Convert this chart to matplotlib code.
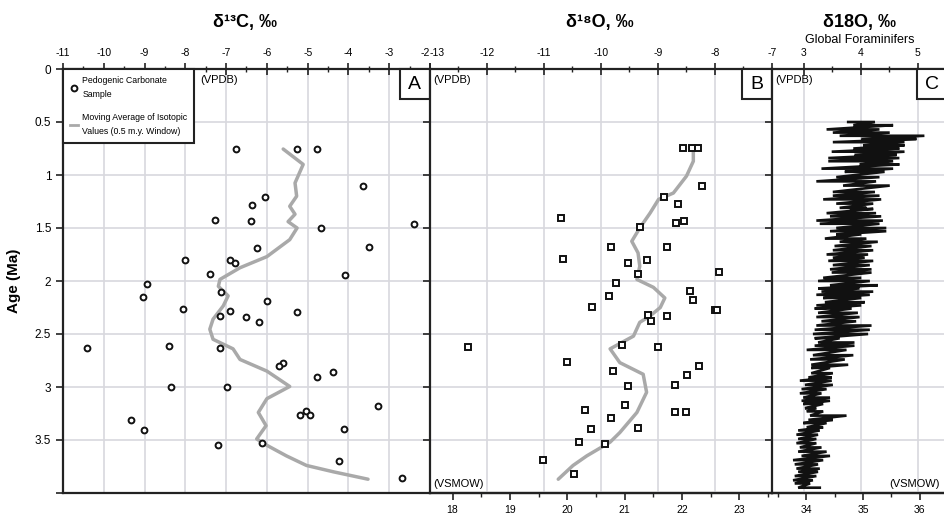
import matplotlib
matplotlib.use('Agg')
import matplotlib.pyplot as plt
from matplotlib.lines import Line2D
from matplotlib.patches import Rectangle
import numpy as np

plt.rcParams['font.family'] = ['Liberation Sans', 'DejaVu Sans']

# --- panel A: d13C of pedogenic carbonate (VPDB) ---
c13_val = [-6.76, -5.27, -4.76, -3.65, -6.05, -6.37, -7.27, -6.39, -4.68, -2.40,
           -6.25, -3.49, -8.00, -6.91, -6.78, -7.40, -4.08, -8.93, -9.03, -7.12,
           -6.00, -8.06, -6.91, -5.27, -7.15, -6.52, -6.20, -10.40, -8.41, -7.15,
           -5.60, -5.70, -4.37, -4.78, -8.35, -6.99, -3.27, -5.19, -5.04, -4.95,
           -9.33, -9.01, -4.11, -7.19, -6.13, -4.24, -2.69]
c13_age = [0.75, 0.75, 0.75, 1.10, 1.21, 1.28, 1.42, 1.43, 1.50, 1.46,
           1.69, 1.68, 1.80, 1.80, 1.83, 1.93, 1.94, 2.03, 2.15, 2.10,
           2.19, 2.26, 2.28, 2.29, 2.33, 2.34, 2.39, 2.63, 2.61, 2.63,
           2.77, 2.80, 2.86, 2.91, 3.00, 3.00, 3.18, 3.26, 3.23, 3.26,
           3.31, 3.41, 3.40, 3.55, 3.53, 3.70, 3.86]
c13_avg_val = [-5.60, -5.11, -5.31, -5.27, -5.44, -5.31, -5.48, -5.26, -5.44, -5.72,
               -6.00, -6.66, -7.15, -7.19, -6.95, -7.07, -7.32, -7.40, -7.32, -6.83,
               -6.66, -6.00, -5.44, -6.00, -6.21, -6.02, -6.25, -6.00, -5.52, -5.03,
               -4.37, -3.52]
c13_avg_age = [0.755, 0.90, 1.075, 1.20, 1.295, 1.37, 1.44, 1.50, 1.61, 1.69,
               1.77, 1.875, 1.985, 2.05, 2.14, 2.235, 2.36, 2.455, 2.55, 2.64,
               2.74, 2.85, 2.995, 3.11, 3.24, 3.365, 3.49, 3.55, 3.65, 3.74,
               3.80, 3.87]

# --- panel B: d18O of pedogenic carbonate (VPDB) ---
o18_val = [-8.57, -8.41, -8.30, -8.22, -8.89, -8.65, -10.71, -9.32, -8.68, -8.55,
           -9.83, -8.84, -10.67, -9.53, -9.19, -9.35, -7.93, -9.74, -8.44, -8.38,
           -9.86, -10.15, -8.00, -7.96, -9.17, -8.85, -9.13, -12.34, -9.63, -9.00,
           -10.59, -8.28, -9.79, -8.49, -9.52, -8.71, -9.58, -10.28, -9.82, -8.70,
           -8.51, -10.17, -9.35, -10.38, -9.93, -11.01, -10.47]
o18_age = [0.745, 0.745, 0.745, 1.10, 1.21, 1.27, 1.41, 1.49, 1.455, 1.43,
           1.675, 1.68, 1.79, 1.83, 1.80, 1.935, 1.915, 2.02, 2.095, 2.175,
           2.145, 2.245, 2.27, 2.27, 2.32, 2.33, 2.38, 2.62, 2.60, 2.62,
           2.76, 2.80, 2.85, 2.89, 2.995, 2.98, 3.17, 3.22, 3.29, 3.24,
           3.24, 3.40, 3.39, 3.52, 3.54, 3.69, 3.82]
o18_avg_val = [-8.38, -8.38, -8.50, -8.73, -8.99, -9.14, -9.32, -9.46, -9.35, -9.32,
               -9.37, -9.08, -8.88, -8.96, -9.14, -9.32, -9.43, -9.84, -9.67, -9.26,
               -9.20, -9.37, -9.67, -9.84, -10.25, -10.49, -10.75]
o18_avg_age = [0.76, 0.87, 1.01, 1.17, 1.23, 1.36, 1.50, 1.625, 1.735, 1.86,
               1.985, 2.06, 2.16, 2.25, 2.33, 2.39, 2.52, 2.64, 2.77, 2.88,
               3.05, 3.24, 3.43, 3.52, 3.65, 3.74, 3.87]

# --- panel C: global benthic foraminifer d18O, low/high swing at each age ---
foram_age = [0.50, 0.53, 0.57, 0.60, 0.63, 0.66, 0.69, 0.72, 0.75, 0.78,
             0.81, 0.84, 0.87, 0.90, 0.94, 0.97, 1.02, 1.06, 1.10, 1.16,
             1.195, 1.23, 1.27, 1.31, 1.32, 1.36, 1.39, 1.43, 1.46, 1.50,
             1.53, 1.56, 1.60, 1.63, 1.67, 1.71, 1.75, 1.78, 1.81, 1.85,
             1.89, 1.92, 1.97, 2.00, 2.04, 2.07, 2.10, 2.13, 2.16, 2.20,
             2.23, 2.26, 2.30, 2.34, 2.38, 2.42, 2.46, 2.50, 2.54, 2.58,
             2.61, 2.65, 2.70, 2.74, 2.79, 2.82, 2.87, 2.91, 2.94, 2.98,
             3.02, 3.06, 3.10, 3.13, 3.16, 3.20, 3.23, 3.27, 3.31, 3.34,
             3.38, 3.41, 3.45, 3.49, 3.53, 3.57, 3.61, 3.65, 3.69, 3.73,
             3.77, 3.80, 3.84, 3.88, 3.91, 3.95]
foram_lo = [3.78, 3.87, 3.40, 3.51, 3.63, 4.01, 3.51, 4.04, 3.87, 3.49,
            3.89, 3.43, 3.43, 3.98, 3.31, 3.72, 3.57, 3.22, 3.69, 3.51,
            3.51, 3.34, 3.57, 3.63, 3.81, 3.40, 3.46, 3.22, 3.28, 3.57,
            3.46, 3.57, 3.37, 3.63, 3.54, 3.51, 3.40, 3.51, 3.43, 3.51,
            3.46, 3.49, 3.34, 3.25, 3.46, 3.25, 3.31, 3.22, 3.34, 3.37,
            3.22, 3.19, 3.25, 3.22, 3.31, 3.22, 3.19, 3.16, 3.19, 3.25,
            3.19, 3.05, 3.16, 3.11, 3.13, 3.13, 3.13, 3.08, 2.93, 3.02,
            2.96, 2.93, 2.99, 2.96, 2.99, 3.02, 3.05, 3.11, 3.08, 2.99,
            3.05, 2.90, 2.87, 2.90, 2.87, 2.93, 2.90, 2.96, 2.81, 2.84,
            2.87, 2.90, 2.84, 2.81, 2.84, 2.90]
foram_hi = [4.25, 4.57, 4.33, 4.51, 5.12, 4.98, 4.77, 4.77, 4.68, 4.77,
            4.63, 4.68, 4.57, 4.68, 4.57, 4.42, 4.33, 4.27, 4.51, 4.25,
            4.33, 4.36, 4.22, 4.10, 4.22, 4.27, 4.36, 4.39, 4.33, 4.45,
            4.45, 4.01, 4.10, 4.30, 4.19, 4.22, 4.13, 4.07, 4.22, 4.16,
            4.19, 4.19, 4.01, 4.16, 4.30, 3.98, 4.22, 4.16, 4.01, 4.07,
            4.01, 3.84, 3.95, 3.98, 3.92, 4.19, 4.16, 4.13, 3.63, 3.89,
            3.89, 3.75, 3.87, 3.72, 3.78, 3.46, 3.51, 3.49, 3.49, 3.51,
            3.40, 3.31, 3.46, 3.46, 3.34, 3.22, 3.34, 3.75, 3.51, 3.40,
            3.34, 3.28, 3.25, 3.22, 3.22, 3.31, 3.40, 3.46, 3.34, 3.25,
            3.28, 3.25, 3.22, 3.16, 3.11, 3.28]

age_ticks = [0, 0.5, 1, 1.5, 2, 2.5, 3, 3.5, 4]
age_labels = ['0', '0.5', '1', '1.5', '2', '2.5', '3', '3.5', '']

grid_col = '#d8d8de'
avg_col = '#a9a9a9'
spine_col = '#222222'

W, H = 945, 517
fig = plt.figure(figsize=(W / 100, H / 100), dpi=100)
top = 1 - 69 / H
bot = 1 - 493 / H
axA = fig.add_axes([63 / W, bot, 367 / W, top - bot])
axB = fig.add_axes([430 / W, bot, 342 / W, top - bot])
axC = fig.add_axes([772 / W, bot, 174 / W, top - bot])


def style(ax, xlim, majors, minors):
    ax.set_xlim(*xlim)
    ax.set_ylim(4, 0)
    ax.xaxis.tick_top()
    ax.set_xticks(majors)
    ax.set_xticks(minors, minor=True)
    ax.set_xticklabels([str(m) for m in majors])
    ax.tick_params(axis='x', which='major', direction='inout', length=8, width=1.2,
                   labelsize=7.5, pad=4, color=spine_col)
    ax.tick_params(axis='x', which='minor', direction='inout', length=4, width=1,
                   color=spine_col)
    ax.set_yticks(age_ticks)
    ax.tick_params(axis='y', direction='out', length=5, width=1.2, color=spine_col)
    ax.set_axisbelow(True)
    ax.grid(True, which='major', color=grid_col, lw=1.2)
    for s in ax.spines.values():
        s.set_color(spine_col)
        s.set_linewidth(1.6)
    ax.spines['right'].set_visible(False)


def letter_box(ax, letter, x0, w):
    ax.add_patch(Rectangle((x0, 1 - 0.071), w, 0.071, transform=ax.transAxes,
                           facecolor='white', edgecolor=spine_col, lw=1.5,
                           zorder=5, clip_on=False))
    ax.text(x0 + w / 2, 1 - 0.036, letter, transform=ax.transAxes, ha='center',
            va='center', fontsize=14, zorder=6)


# panel A
style(axA, (-11, -2), list(range(-11, -1)), np.arange(-10.5, -2, 1))
axA.xaxis.get_major_ticks()[-1].label2.set_horizontalalignment('right')
axA.set_yticklabels(age_labels)
axA.tick_params(axis='y', labelsize=8.5)
axA.set_ylabel('Age (Ma)', fontsize=11, fontweight='bold', labelpad=10)
axA.plot(c13_avg_val, c13_avg_age, color=avg_col, lw=2.5, solid_joinstyle='round',
         solid_capstyle='round', zorder=2)
axA.plot(c13_val, c13_age, ls='none', marker='o', ms=4.2, mfc='white', mec='#111111',
         mew=1.4, zorder=3)
axA.text(0.375, 0.985, '(VPDB)', transform=axA.transAxes, ha='left', va='top', fontsize=8)
letter_box(axA, 'A', 1 - 0.082, 0.082)

handles = [Line2D([], [], ls='none', marker='o', ms=4.2, mfc='white', mec='#111111', mew=1.4),
           Line2D([], [], color=avg_col, lw=2)]
labels = ['Pedogenic Carbonate\nSample', 'Moving Average of Isotopic\nValues (0.5 m.y. Window)']
leg = axA.legend(handles, labels, loc='upper left', bbox_to_anchor=(0, 1), borderaxespad=0,
                 fontsize=6.3, fancybox=False, edgecolor=spine_col, framealpha=1,
                 handlelength=0.9, handletextpad=0.5, labelspacing=1.6, borderpad=0.8)
for t in leg.get_texts():
    t.set_linespacing(1.7)
leg.get_frame().set_linewidth(1.5)
leg.set_zorder(7)

# panel B
style(axB, (-13, -7), list(range(-13, -6)), np.arange(-12.5, -7, 1))
axB.xaxis.get_major_ticks()[0].label2.set_horizontalalignment('left')
axB.tick_params(axis='y', labelleft=False)
axB.plot(o18_avg_val, o18_avg_age, color=avg_col, lw=2.5, solid_joinstyle='round',
         solid_capstyle='round', zorder=2)
axB.plot(o18_val, o18_age, ls='none', marker='s', ms=4.2, mfc='white', mec='#111111',
         mew=1.4, zorder=3)
axB.text(0.01, 0.985, '(VPDB)', transform=axB.transAxes, ha='left', va='top', fontsize=8)
axB.text(0.01, 0.01, '(VSMOW)', transform=axB.transAxes, ha='left', va='bottom', fontsize=8)
letter_box(axB, 'B', 1 - 0.088, 0.088)

secB = axB.secondary_xaxis('bottom', functions=(lambda v: 0.9933 * v + 30.52,
                                               lambda s: (s - 30.52) / 0.9933))
secB.set_xticks(range(18, 24))
secB.set_xticks(np.arange(17.5, 24, 1), minor=True)
secB.tick_params(which='major', direction='out', length=5, width=1.2, labelsize=7.5,
                 color=spine_col)
secB.tick_params(which='minor', direction='out', length=3, width=1, color=spine_col)
secB.spines['bottom'].set_linewidth(1.6)
secB.spines['bottom'].set_color(spine_col)

# panel C: zigzag through the low and high value at each age
style(axC, (2.44, 5.5), [3, 4, 5], [3.5, 4.5])
axC.tick_params(axis='y', labelleft=False)
zig_x = np.column_stack([foram_lo, foram_hi]).ravel()
zig_y = np.repeat(foram_age, 2)
axC.plot(zig_x, zig_y, color='#111111', lw=1.9, solid_joinstyle='miter', zorder=3)
axC.text(0.017, 0.985, '(VPDB)', transform=axC.transAxes, ha='left', va='top', fontsize=8)
axC.text(0.966, 0.01, '(VSMOW)', transform=axC.transAxes, ha='right', va='bottom', fontsize=8)
letter_box(axC, 'C', 0.833, 0.175)

secC = axC.secondary_xaxis('bottom', functions=(lambda v: v + 30.96, lambda s: s - 30.96))
secC.set_xticks([34, 35, 36])
secC.set_xticks([33.5, 34.5, 35.5, 36.5], minor=True)
secC.tick_params(which='major', direction='out', length=5, width=1.2, labelsize=7.5,
                 color=spine_col)
secC.tick_params(which='minor', direction='out', length=3, width=1, color=spine_col)
secC.spines['bottom'].set_linewidth(1.6)
secC.spines['bottom'].set_color(spine_col)

# titles
fig.text(245 / W, 1 - 22 / H, 'δ¹³C, ‰', ha='center', va='center', fontsize=13,
         fontweight='bold')
fig.text(600 / W, 1 - 22 / H, 'δ¹⁸O, ‰', ha='center', va='center', fontsize=13,
         fontweight='bold')
fig.text(860 / W, 1 - 22 / H, 'δ18O, ‰', ha='center', va='center', fontsize=13,
         fontweight='bold')
fig.text(860 / W, 1 - 40 / H, 'Global Foraminifers', ha='center', va='center', fontsize=9)

fig.savefig('out.png', dpi=100)
